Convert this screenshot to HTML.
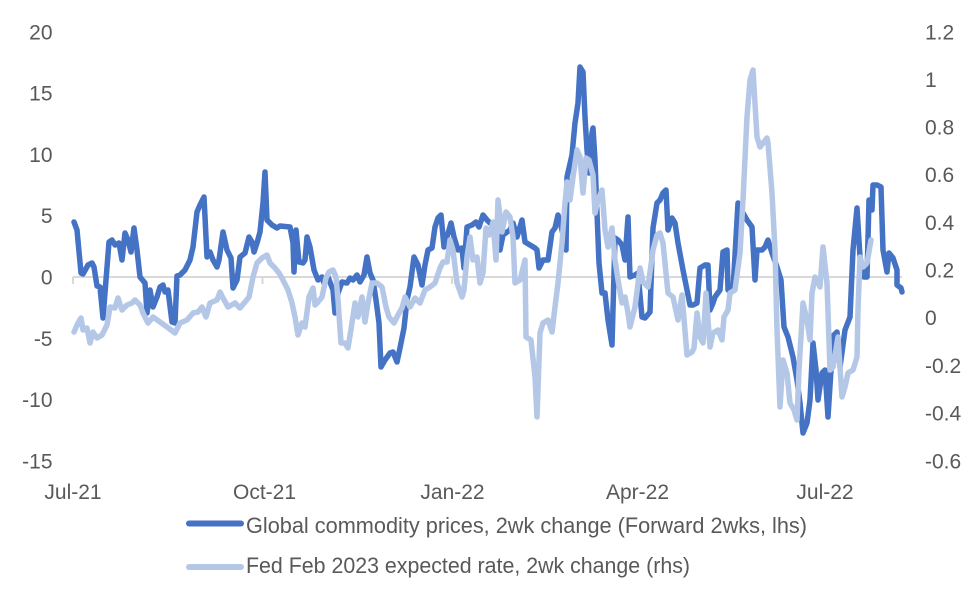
<!DOCTYPE html>
<html>
<head>
<meta charset="utf-8">
<style>
  html, body { margin: 0; padding: 0; background: #ffffff; }
  body { width: 980px; height: 604px; overflow: hidden; }
  svg { display: block; }
  text { font-family: "Liberation Sans", "DejaVu Sans", sans-serif; fill: #595959; }
</style>
</head>
<body>
<svg width="980" height="604" viewBox="0 0 980 604" xmlns="http://www.w3.org/2000/svg">
  <rect x="0" y="0" width="980" height="604" fill="#ffffff"/>

  <!-- zero line and ticks -->
  <line x1="73" y1="277" x2="902" y2="277" stroke="#D9D9D9" stroke-width="2"/>
  <g stroke="#D9D9D9" stroke-width="2">
    <line x1="73" y1="277" x2="73" y2="284"/>
    <line x1="262.5" y1="277" x2="262.5" y2="284"/>
    <line x1="452" y1="277" x2="452" y2="284"/>
    <line x1="637.5" y1="277" x2="637.5" y2="284"/>
    <line x1="825" y1="277" x2="825" y2="284"/>
  </g>

  <!-- left axis labels -->
  <g font-size="21" text-anchor="end">
    <text x="52.5" y="39.5">20</text>
    <text x="52.5" y="100.5">15</text>
    <text x="52.5" y="162">10</text>
    <text x="52.5" y="223">5</text>
    <text x="52.5" y="284.5">0</text>
    <text x="52.5" y="346">-5</text>
    <text x="52.5" y="407">-10</text>
    <text x="52.5" y="468.5">-15</text>
  </g>

  <!-- right axis labels -->
  <g font-size="21" text-anchor="start">
    <text x="925" y="39.5">1.2</text>
    <text x="925" y="87">1</text>
    <text x="925" y="134.5">0.8</text>
    <text x="925" y="182">0.6</text>
    <text x="925" y="230">0.4</text>
    <text x="925" y="277.5">0.2</text>
    <text x="925" y="325">0</text>
    <text x="925" y="373">-0.2</text>
    <text x="925" y="420.5">-0.4</text>
    <text x="925" y="468.5">-0.6</text>
  </g>

  <!-- x axis labels -->
  <g font-size="21" text-anchor="middle">
    <text x="73" y="499">Jul-21</text>
    <text x="264.5" y="499">Oct-21</text>
    <text x="452.5" y="499">Jan-22</text>
    <text x="637.5" y="499">Apr-22</text>
    <text x="825" y="499">Jul-22</text>
  </g>

  <!-- dark series: Global commodity prices -->
  <polyline fill="none" stroke="#4472C4" stroke-width="5.5" stroke-linejoin="round" stroke-linecap="round"
    points="74,222 77,230 81,273 83,274 88,265 92,263 94,267 97,286 100,287 103,318 109,242 112,240 115,245 119,243 122,260 125,233 128,240 131,252 134,228 137,250 140,277 145,283 147,313 150,290 153,307 157,297 160,287 163,285 165,292 168,290 172,322 175,323 177,276 180,275 185,270 190,260 193,247 197,212 200,205 204,197 207,257 210,252 213,260 217,267 219,260 223,232 227,250 231,258 233,288 237,280 240,257 245,253 249,237 252,242 254,252 257,243 260,232 263,203 265,172 267,220 272,225 277,228 280,226 290,227 293,243 294,272 296,230 299,262 303,263 305,260 307,237 310,247 314,270 318,280 322,277 324,283 328,277 333,290 335,313 338,293 342,282 347,283 350,278 353,280 357,275 360,282 364,275 367,257 370,273 373,280 376,300 379,323 381,367 385,360 390,353 393,352 397,362 400,348 404,328 407,300 410,287 414,257 418,265 422,285 425,265 428,250 432,248 435,227 438,218 441,215 444,247 447,237 451,223 454,237 458,250 462,248 464,268 467,227 472,225 476,222 479,227 483,215 487,220 490,223 493,225 497,228 500,250 503,235 507,232 510,230 513,223 517,237 522,220 525,242 530,245 535,248 537,250 539,268 543,260 548,260 552,232 555,228 558,215 562,230 566,250 567,177 572,155 575,123 578,103 580,67 583,72 585,117 587,150 589,173 592,133 593,128 595,160 597,213 599,263 602,293 605,293 608,320 612,345 615,238 618,240 622,245 625,260 628,217 630,277 635,275 638,273 642,317 645,318 650,312 653,228 657,203 660,200 663,193 666,190 668,230 672,218 675,223 678,243 683,270 687,290 690,305 693,305 697,303 700,268 705,265 708,265 710,310 713,303 715,297 720,290 723,252 727,250 728,290 733,290 738,203 743,213 747,220 752,227 755,280 757,250 762,250 765,247 768,240 772,253 777,267 781,280 784,327 788,337 793,357 797,380 800,403 803,433 807,423 810,400 813,343 816,370 818,400 822,373 825,370 828,417 831,370 834,335 837,332 840,367 845,330 850,317 853,250 857,208 860,257 864,277 867,277 869,200 872,210 873,185 877,185 881,187 883,250 887,272 889,253 893,258 897,270 897,285 901,288 902,292"/>

  <!-- light series: Fed Feb 2023 expected rate -->
  <polyline fill="none" stroke="#B4C7E7" stroke-width="5.5" stroke-linejoin="round" stroke-linecap="round"
    points="74,332 78,323 81,318 83,330 87,328 90,343 93,332 97,338 102,335 107,325 110,307 115,308 118,298 122,310 127,305 132,303 135,300 140,305 143,313 148,323 153,317 160,322 167,327 175,333 180,323 187,320 193,313 198,312 202,307 206,317 210,303 217,300 220,292 223,298 228,307 235,303 240,308 245,302 249,297 253,277 257,263 262,258 267,255 270,263 275,268 279,273 283,280 288,290 292,303 295,317 298,335 302,323 305,327 309,297 313,288 315,305 318,302 322,297 326,278 329,272 333,270 336,277 338,300 341,343 345,343 348,348 352,323 355,303 358,317 362,297 365,322 368,303 372,283 377,283 382,287 386,307 389,317 394,323 398,315 402,308 405,297 410,307 415,298 420,303 425,290 430,287 435,283 440,268 443,262 447,262 450,240 453,250 457,283 462,297 464,290 467,257 470,237 473,260 477,257 480,283 483,273 486,228 489,235 493,222 496,260 498,200 502,232 506,212 510,217 513,237 515,283 520,280 525,260 526,337 531,340 535,377 537,417 540,333 543,323 548,320 552,332 555,307 558,283 562,243 565,203 567,182 570,200 573,177 577,150 580,157 583,193 586,158 589,160 593,175 595,213 598,200 602,190 605,230 608,247 612,228 615,260 618,280 622,303 625,297 628,313 630,327 635,307 640,268 643,282 648,287 653,250 657,235 660,233 663,243 668,293 673,297 678,320 682,295 687,355 692,352 694,348 697,313 700,337 703,343 706,293 710,347 713,333 718,330 722,340 724,317 728,310 730,293 735,290 740,253 743,200 747,117 750,80 753,70 757,137 760,147 767,138 768,143 772,193 775,250 777,330 780,407 783,360 787,373 790,403 794,410 797,420 799,370 803,303 807,320 810,340 812,293 815,277 820,287 823,247 827,283 830,370 833,367 838,337 842,397 845,387 848,373 853,370 857,357 858,310 860,257 863,267 867,263 871,240"/>

  <!-- legend -->
  <line x1="189" y1="523.5" x2="241" y2="523.5" stroke="#4472C4" stroke-width="6" stroke-linecap="round"/>
  <text x="246" y="533" font-size="22" textLength="561" lengthAdjust="spacingAndGlyphs">Global commodity prices, 2wk change (Forward 2wks, lhs)</text>
  <line x1="189" y1="567" x2="241" y2="567" stroke="#B4C7E7" stroke-width="6" stroke-linecap="round"/>
  <text x="246" y="573" font-size="22" textLength="444" lengthAdjust="spacingAndGlyphs">Fed Feb 2023 expected rate, 2wk change (rhs)</text>
</svg>
</body>
</html>
